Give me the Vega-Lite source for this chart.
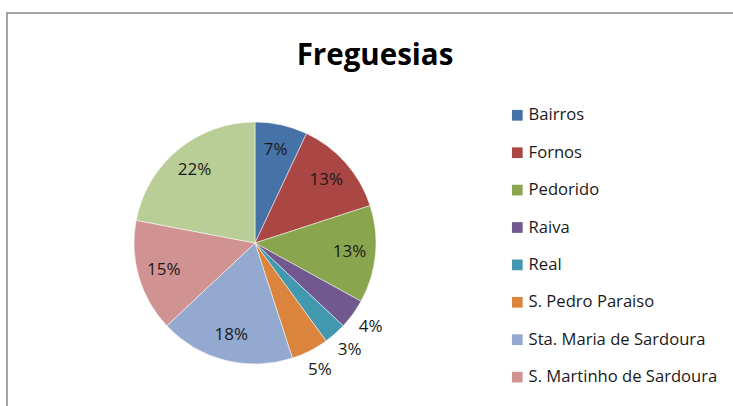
{
  "$schema": "https://vega.github.io/schema/vega-lite/v6.json",
  "width": 730,
  "height": 400,
  "autosize": {"type": "none"},
  "padding": {"left": 7, "top": 13, "right": 0, "bottom": 0},
  "background": "white",
  "view": {"stroke": "#868686", "strokeWidth": 1.5},
  "title": {
    "text": "Freguesias",
    "font": "Open Sans",
    "fontSize": 29.5,
    "fontWeight": "bold",
    "color": "#000000",
    "anchor": "middle",
    "dx": 3,
    "offset": -81,
    "baseline": "alphabetic"
  },
  "config": {
    "font": "Open Sans"
  },
  "data": {
    "values": [
      {"i": 1, "freguesia": "Bairros", "pct": 0.07},
      {"i": 2, "freguesia": "Fornos", "pct": 0.13},
      {"i": 3, "freguesia": "Pedorido", "pct": 0.13},
      {"i": 4, "freguesia": "Raiva", "pct": 0.04},
      {"i": 5, "freguesia": "Real", "pct": 0.03},
      {"i": 6, "freguesia": "S. Pedro Paraiso", "pct": 0.05},
      {"i": 7, "freguesia": "Sta. Maria de Sardoura", "pct": 0.18},
      {"i": 8, "freguesia": "S. Martinho de Sardoura", "pct": 0.15},
      {"i": 9, "freguesia": "Sobrado", "pct": 0.22}
    ]
  },
  "encoding": {
    "theta": {"field": "pct", "type": "quantitative", "stack": true},
    "order": {"field": "i", "type": "quantitative"}
  },
  "layer": [
    {
      "mark": {"type": "arc", "x": 248, "y": 230, "outerRadius": 121, "stroke": "white", "strokeWidth": 0.5},
      "encoding": {
        "color": {
          "field": "freguesia",
          "type": "nominal",
          "scale": {
            "domain": ["Bairros", "Fornos", "Pedorido", "Raiva", "Real", "S. Pedro Paraiso", "Sta. Maria de Sardoura", "S. Martinho de Sardoura", "Sobrado"],
            "range": ["#4572A7", "#AA4643", "#89A54E", "#71588F", "#4198AF", "#DB843D", "#93A9CF", "#D19392", "#B9CD96"]
          },
          "legend": {
            "title": null,
            "orient": "none",
            "legendX": 502,
            "legendY": 94,
            "padding": 0,
            "values": ["Bairros", "Fornos", "Pedorido", "Raiva", "Real", "S. Pedro Paraiso", "Sta. Maria de Sardoura", "S. Martinho de Sardoura"],
            "symbolType": "square",
            "symbolSize": 115,
            "symbolStrokeWidth": 0,
            "labelFont": "Open Sans",
            "labelFontSize": 16.6,
            "labelColor": "#1a1a1a",
            "labelOffset": 3,
            "labelLimit": 300,
            "rowPadding": 20.4
          }
        }
      }
    },
    {
      "mark": {"type": "text", "x": 248, "y": 230, "radius": 95, "font": "Open Sans", "fontSize": 17, "color": "#1a1a1a"},
      "encoding": {
        "text": {"condition": {"test": "datum.pct > 0.055", "field": "pct", "type": "quantitative", "format": ".0%"}, "value": ""}
      }
    },
    {
      "mark": {"type": "text", "x": 248, "y": 230, "radius": 143, "font": "Open Sans", "fontSize": 17, "color": "#1a1a1a"},
      "encoding": {
        "text": {"condition": {"test": "datum.pct <= 0.055", "field": "pct", "type": "quantitative", "format": ".0%"}, "value": ""}
      }
    }
  ]
}
